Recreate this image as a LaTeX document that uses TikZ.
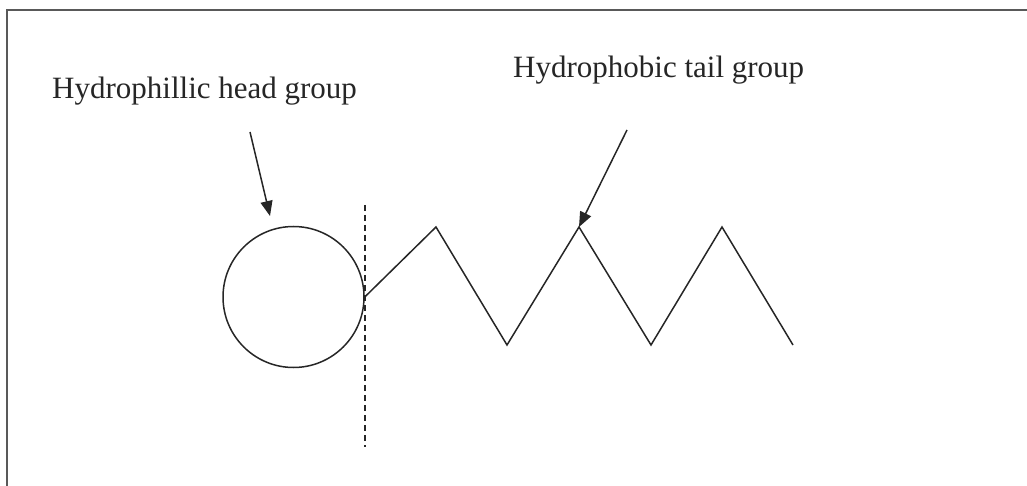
\documentclass[tikz,border=0pt]{standalone}
\usepackage{fontspec}
\setmainfont{Liberation Serif}
\usetikzlibrary{arrows.meta}
\begin{document}
\begin{tikzpicture}[x=1pt,y=-1pt,
  line/.style={line width=1.5pt,draw=black!85},
  pointer/.style={line width=1.5pt,draw=black!85,-{Triangle[length=15pt,width=12pt]}},
  label/.style={font=\fontsize{31}{36}\selectfont,text=black!85,inner sep=0pt,anchor=base west}]
\useasboundingbox (0,0) rectangle (1027,486);
\draw[line width=1.6pt,draw=black!65] (7,486) -- (7,10) -- (1027,10);
\node[label] (headlabel) at (52,99) {Hydrophillic head group};
\node[label] (taillabel) at (513,78) {Hydrophobic tail group};
\node[line,circle,minimum size=141pt,inner sep=0pt] (head) at (293.5,297) {};
\draw[line width=1.5pt,draw=black!85,dash pattern=on 6pt off 4pt] (365,205) coordinate (dtop) -- (365,447) coordinate (dbot);
\coordinate (p0) at (head.east);
\coordinate (p1) at (436,227);
\coordinate (p2) at (507,345);
\coordinate (p3) at (579,227);
\coordinate (p4) at (651,345);
\coordinate (p5) at (722,227);
\coordinate (p6) at (793,345);
\draw[line,line join=miter] (p0) -- (p1) -- (p2) -- (p3) -- (p4) -- (p5) -- (p6);
\coordinate (a1) at (250,132);
\coordinate (a2) at (627,130);
\draw[pointer] (a1) -- (270,216);
\draw[pointer] (a2) -- (p3);
\end{tikzpicture}
\end{document}
